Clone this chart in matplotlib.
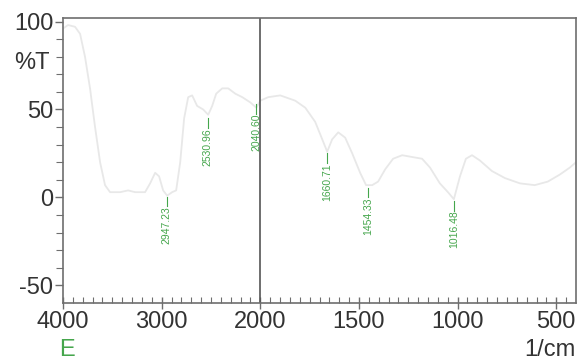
import numpy as np
import matplotlib
matplotlib.use("Agg")
import matplotlib.pyplot as plt

# spectrum points (wavenumber 1/cm, %T)
wavenumber = [4000, 3949, 3878, 3827, 3777, 3726, 3675, 3624, 3574, 3523,
              3421, 3340, 3269, 3168, 3117, 3066, 3026, 2985, 2944, 2894,
              2853, 2812, 2772, 2731, 2691, 2640, 2579, 2528, 2488, 2447,
              2386, 2325, 2254, 2183, 2101, 2040, 2000, 1960, 1899, 1823,
              1772, 1722, 1686, 1661, 1636, 1605, 1570, 1534, 1494, 1464,
              1433, 1403, 1367, 1327, 1281, 1231, 1180, 1140, 1090, 1049,
              1019, 988, 958, 927, 887, 826, 760, 684, 609, 543,
              482, 431, 400]
transmittance = [96, 98, 97, 93, 80, 62, 40, 20, 7, 3,
                 3, 4, 3, 3, 8, 14, 12, 4, 1, 3,
                 4, 20, 45, 57, 58, 52, 50, 47, 52, 59,
                 62, 62, 59, 57, 54, 51, 55, 57, 58, 55,
                 51, 43, 33, 26, 33, 37, 34, 25, 14, 7,
                 7, 9, 16, 22, 24, 23, 22, 17, 8, 3,
                 -1, 12, 22, 24, 21, 15, 11, 8, 7, 9,
                 13, 17, 20]

# picked peaks and the %T where their marker starts
peak_wn = [2947.23, 2530.96, 2040.60, 1660.71, 1454.33, 1016.48]
peak_top = [0.5, 45, 53, 25, 5.5, -2]

major_x = [4000, 3000, 2000, 1500, 1000, 500]
minor_x = list(range(3900, 2000, -100)) + list(range(1950, 400, -50))

green = "#45a64c"
grey = "#6e6e6e"


def fwd(x):
    x = np.asarray(x, dtype=float)
    return np.where(x > 2000, 2000 + (x - 2000) / 2.0, x)


def inv(u):
    u = np.asarray(u, dtype=float)
    return np.where(u > 2000, 2000 + (u - 2000) * 2.0, u)


plt.rcParams['font.family'] = ['Liberation Sans', 'DejaVu Sans']
plt.rcParams['axes.unicode_minus'] = False

fig = plt.figure(figsize=(5.77, 3.6), dpi=100)
ax = fig.add_axes([63 / 577, 1 - 303 / 360, 513 / 577, 285 / 360])

ax.set_xscale('function', functions=(fwd, inv))
ax.set_xlim(4000, 400)
ax.set_ylim(-60, 102)

ax.plot(wavenumber, transmittance, color="#e8e8e8", lw=1.3)
ax.axvline(2000, color="#555555", lw=1.2)

for wn, top in zip(peak_wn, peak_top):
    ax.plot([wn, wn], [top, top - 5.5], color=green, lw=0.8)
    ax.text(wn, top - 5.5, "{:.2f}".format(wn), rotation=90, ha='center',
            va='top', fontsize=7.5, color=green)

for s in ax.spines.values():
    s.set_color(grey)
    s.set_linewidth(1.2)

ax.set_xticks(major_x)
ax.set_xticklabels([str(v) for v in major_x])
ax.set_xticks(minor_x, minor=True)
ax.set_yticks([100, 50, 0, -50])
ax.set_yticks(list(range(90, -60, -10)), minor=True)

ax.tick_params(axis='x', which='major', direction='inout', length=9, width=1,
               color=grey, labelsize=17, labelcolor="#333333", pad=1)
ax.tick_params(axis='x', which='minor', direction='in', length=4, width=0.8,
               color=grey)
ax.tick_params(axis='y', which='major', direction='out', length=6, width=1,
               color=grey, labelsize=17, labelcolor="#333333", pad=1)
ax.tick_params(axis='y', which='minor', direction='out', length=5, width=0.8,
               color=grey)

fig.text(32 / 577, 1 - 63 / 360, "%T", fontsize=17, color="#333333",
         ha='center', va='center')
fig.text(67 / 577, 1 - 350 / 360, "E", fontsize=17, color=green,
         ha='center', va='center')
fig.text(576 / 577, 1 - 350 / 360, "1/cm", fontsize=17, color="#333333",
         ha='right', va='center')

fig.savefig("out.png", dpi=100)
